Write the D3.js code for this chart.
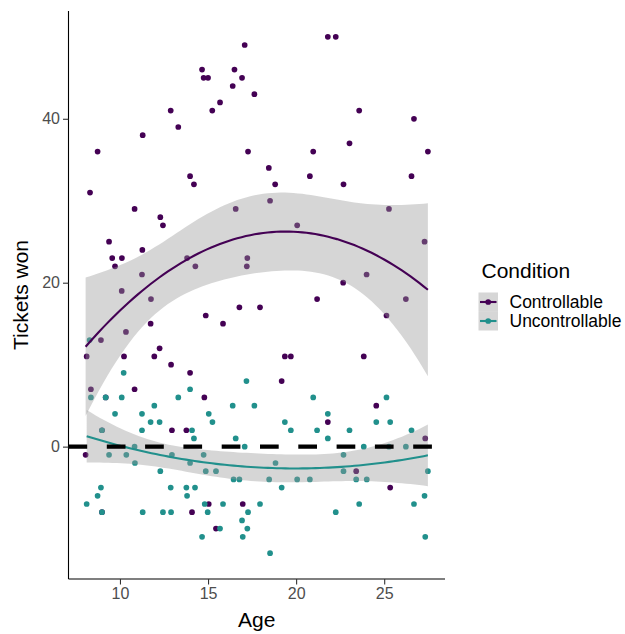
<!DOCTYPE html>
<html>
<head>
<meta charset="utf-8">
<script src="https://cdn.jsdelivr.net/npm/d3@7"></script>
<style>
  body { margin: 0; background: #fff; }
  text { font-family: "Liberation Sans", Arial, sans-serif; }
</style>
</head>
<body>
<div class="chart"></div>
<script>

// ages and tickets won
// (the last three controllable points sit under uncontrollable ones of the same child)
var ageControllable = [17.08, 14.66, 16.50, 14.75, 15.00, 16.93, 16.40, 17.63, 15.68, 12.88, 15.24, 13.31, 11.29, 8.73, 17.27,
  13.98, 14.20, 8.30, 10.83, 16.57, 21.80, 22.25, 23.58, 26.69, 20.97, 23.03, 27.48, 18.45, 20.78, 26.55, 18.81, 22.69,
  18.52, 25.27, 12.29, 12.44, 9.38, 9.56, 10.11, 9.72, 11.27, 13.81, 14.28, 17.23, 17.20, 11.25, 10.10, 11.76, 16.78,
  17.95, 14.87, 15.85, 11.74, 8.92, 10.34, 8.11, 10.23, 12.25, 11.95, 12.90, 13.98, 8.35, 10.83, 20.06, 27.29, 24.00,
  22.67, 21.19, 26.23, 25.13, 19.36, 19.70, 23.84, 19.18, 14.79, 12.95, 13.77, 8.05, 15.04, 16.97, 14.09, 15.45, 24.55,
  21.80, 27.33, 23.41, 25.34, 9.19, 8.98, 8.98];
var ticketsControllable = [49, 46, 46, 45, 45, 45, 44, 43, 42, 41, 41, 39, 38, 36, 36,
  33, 32, 31, 29, 29, 50, 50, 41, 40, 36, 37, 36, 34, 33, 33, 32, 32,
  30, 29, 28, 27, 25, 23, 23, 22, 24, 23, 22, 23, 22, 21, 19, 18, 17,
  17, 16, 15, 15, 13, 14, 11, 11, 12, 11, 10, 9, 7, 7, 27, 25, 21,
  20, 18, 18, 16, 11, 11, 11, 8, 6, 2, 2, -1, -7, -7, -8, -10, 5,
  3, 1, -3, -5, 6, 2, -8];

var ageUncontrollable = [8.28, 10.21, 17.18, 13.98, 8.35, 9.19, 10.10, 13.31, 11.95, 16.40, 17.63, 9.72, 11.25, 15.04, 11.74,
  12.25, 15.25, 8.98, 11.25, 14.09, 14.20, 16.57, 9.38, 10.36, 10.83, 17.08, 12.95, 14.75, 10.85, 13.98, 12.29, 14.87,
  15.45, 16.45, 16.78, 8.92, 12.88, 13.77, 14.26, 8.73, 13.81, 8.11, 14.81, 15.85, 8.98, 11.29, 12.44, 12.90, 14.98,
  17.27, 16.93, 15.68, 17.23, 14.66, 16.97, 20.97, 25.13, 21.80, 19.36, 24.55, 25.34, 19.70, 21.19, 23.03, 26.55, 21.80,
  23.84, 25.27, 26.23, 22.69, 18.83, 22.69, 27.48, 18.47, 20.06, 20.78, 23.41, 24.01, 19.18, 27.29, 17.95, 23.58, 26.69,
  22.25, 27.33, 18.52];
var ticketsUncontrollable = [13, 9, 8, 7, 6, 6, 6, 6, 5, 5, 5, 4, 4, 4, 3,
  3, 3, 2, 2, 2, 1, 1, -1, -1, 0, 0, -1, -1, -2, -2, -3, -3,
  -3, -4, -4, -5, -5, -5, -5, -6, -6, -7, -7, -7, -8, -8, -8, -8, -8,
  -8, -9, -10, -10, -11, -11, 6, 6, 4, 3, 3, 3, 2, 2, 2, 2, 1,
  0, 0, 0, -1, -2, -3, -3, -4, -4, -4, -4, -4, -5, -6, -7, -7, -7,
  -8, -11, -13];

var conditions = ["Controllable", "Uncontrollable"];
var colours = ["#440154", "#21908C"];
var xTicks = [10, 15, 20, 25];
var yTicks = [0, 20, 40];
var refLine = 0;


var width = 625;
var height = 634;
var panel = { left: 68.5, right: 445, top: 11, bottom: 579 };

var svg = d3.select(".chart").append("svg")
    .attr("width", width)
    .attr("height", height)
    .attr("display", "block");

var groups = [
  { name: conditions[0], colour: colours[0], ages: ageControllable, tickets: ticketsControllable },
  { name: conditions[1], colour: colours[1], ages: ageUncontrollable, tickets: ticketsUncontrollable }
];

// quadratic lm fit with a 95% band, like geom_smooth(method = "lm", formula = y ~ poly(x, 2))
var fitQuadratic = function(xs, ys) {
  var n = xs.length;
  var mx = d3.mean(xs);
  var A = [[0, 0, 0], [0, 0, 0], [0, 0, 0]], b = [0, 0, 0];
  for (var i = 0; i < n; i++) {
    var u = xs[i] - mx, row = [1, u, u * u];
    for (var r = 0; r < 3; r++) {
      b[r] += row[r] * ys[i];
      for (var c = 0; c < 3; c++) A[r][c] += row[r] * row[c];
    }
  }
  var inv = invert3(A);
  var beta = [0, 1, 2].map(function(r) { return inv[r][0] * b[0] + inv[r][1] * b[1] + inv[r][2] * b[2]; });
  var rss = 0;
  for (var i = 0; i < n; i++) {
    var u = xs[i] - mx;
    var e = ys[i] - (beta[0] + beta[1] * u + beta[2] * u * u);
    rss += e * e;
  }
  var df = n - 3;
  var s2 = rss / df;
  var z = 1.959964;
  var t = z + (Math.pow(z, 3) + z) / (4 * df) + (5 * Math.pow(z, 5) + 16 * Math.pow(z, 3) + 3 * z) / (96 * df * df);
  var lo = d3.min(xs), hi = d3.max(xs);
  var out = [];
  for (var k = 0; k < 80; k++) {
    var x0 = lo + (hi - lo) * k / 79;
    var u = x0 - mx, v = [1, u, u * u];
    var fit = beta[0] + beta[1] * u + beta[2] * u * u;
    var q = 0;
    for (var r = 0; r < 3; r++) for (var c = 0; c < 3; c++) q += v[r] * inv[r][c] * v[c];
    var se = Math.sqrt(s2 * q);
    out.push({ x: x0, y: fit, ymin: fit - t * se, ymax: fit + t * se });
  }
  return out;
};

function invert3(m) {
  var a = m[0][0], b = m[0][1], c = m[0][2], d = m[1][0], e = m[1][1], f = m[1][2], g = m[2][0], h = m[2][1], k = m[2][2];
  var det = a * (e * k - f * h) - b * (d * k - f * g) + c * (d * h - e * g);
  return [
    [(e * k - f * h) / det, (c * h - b * k) / det, (b * f - c * e) / det],
    [(f * g - d * k) / det, (a * k - c * g) / det, (c * d - a * f) / det],
    [(d * h - e * g) / det, (b * g - a * h) / det, (a * e - b * d) / det]
  ];
}

groups.forEach(function(g) { g.smooth = fitQuadratic(g.ages, g.tickets); });

// scales with ggplot's 5% expansion
var allAges = ageControllable.concat(ageUncontrollable);
var allY = ticketsControllable.concat(ticketsUncontrollable);
groups.forEach(function(g) { g.smooth.forEach(function(d) { allY.push(d.ymin, d.ymax); }); });
var xr = d3.extent(allAges), yr = d3.extent(allY);
var xp = (xr[1] - xr[0]) * 0.05, yp = (yr[1] - yr[0]) * 0.05;

var x = d3.scaleLinear().domain([xr[0] - xp, xr[1] + xp]).range([panel.left, panel.right]);
var y = d3.scaleLinear().domain([yr[0] - yp, yr[1] + yp]).range([panel.bottom, panel.top]);

// points
groups.forEach(function(g) {
  svg.append("g").selectAll("circle")
    .data(g.ages.map(function(a, i) { return [a, g.tickets[i]]; }))
    .enter().append("circle")
      .attr("cx", function(d) { return x(d[0]); })
      .attr("cy", function(d) { return y(d[1]); })
      .attr("r", 2.85)
      .attr("fill", g.colour);
});

// smooths
var area = d3.area()
    .x(function(d) { return x(d.x); })
    .y0(function(d) { return y(d.ymin); })
    .y1(function(d) { return y(d.ymax); });
var line = d3.line()
    .x(function(d) { return x(d.x); })
    .y(function(d) { return y(d.y); });

groups.forEach(function(g) {
  svg.append("path").datum(g.smooth)
    .attr("d", area)
    .attr("fill", "#999999")
    .attr("fill-opacity", 0.4);
  svg.append("path").datum(g.smooth)
    .attr("d", line)
    .attr("fill", "none")
    .attr("stroke", g.colour)
    .attr("stroke-width", 2.1);
});

// dashed reference line
svg.append("line")
    .attr("x1", panel.left).attr("x2", panel.right)
    .attr("y1", y(refLine)).attr("y2", y(refLine))
    .attr("stroke", "#000")
    .attr("stroke-width", 4.3)
    .attr("stroke-dasharray", "18.7,19.6");

// axes
var xAxis = svg.append("g")
    .attr("transform", "translate(0," + panel.bottom + ")")
    .call(d3.axisBottom(x).tickValues(xTicks).tickSize(5.5).tickPadding(3));
var yAxis = svg.append("g")
    .attr("transform", "translate(" + panel.left + ",0)")
    .call(d3.axisLeft(y).tickValues(yTicks).tickSize(5.5).tickPadding(3));

[xAxis, yAxis].forEach(function(ax) {
  ax.select(".domain").attr("stroke", "#000").attr("stroke-width", 1.1);
  ax.selectAll(".tick line").attr("stroke", "#333").attr("stroke-width", 1.1);
  ax.selectAll(".tick text").attr("fill", "#4d4d4d").attr("font-size", "16px")
    .attr("font-family", "Liberation Sans, Arial, sans-serif");
});
xAxis.select(".domain").attr("d", "M" + panel.left + ",0H" + panel.right);
yAxis.select(".domain").attr("d", "M0," + panel.bottom + "V" + panel.top);

svg.append("text")
    .attr("x", (panel.left + panel.right) / 2)
    .attr("y", 626.5)
    .attr("text-anchor", "middle")
    .attr("font-size", "21px")
    .text("Age");

svg.append("text")
    .attr("transform", "translate(28.3," + (panel.top + panel.bottom) / 2 + ") rotate(-90)")
    .attr("text-anchor", "middle")
    .attr("font-size", "21px")
    .text("Tickets won");

// legend
var legend = svg.append("g");
legend.append("text")
    .attr("x", 481.5)
    .attr("y", 277.5)
    .attr("font-size", "21px")
    .text("Condition");

groups.forEach(function(g, i) {
  var cy = 302 + i * 19;
  legend.append("rect")
    .attr("x", 478.5).attr("y", cy - 9.5)
    .attr("width", 19.5).attr("height", 19)
    .attr("fill", "#999999").attr("fill-opacity", 0.4);
  legend.append("line")
    .attr("x1", 480).attr("x2", 496.5)
    .attr("y1", cy).attr("y2", cy)
    .attr("stroke", g.colour).attr("stroke-width", 2.1);
  legend.append("circle")
    .attr("cx", 488.2).attr("cy", cy).attr("r", 2.85)
    .attr("fill", g.colour);
  legend.append("text")
    .attr("x", 509.5)
    .attr("y", cy + 6)
    .attr("font-size", "17.5px")
    .text(g.name);
});

</script>
</body>
</html>
